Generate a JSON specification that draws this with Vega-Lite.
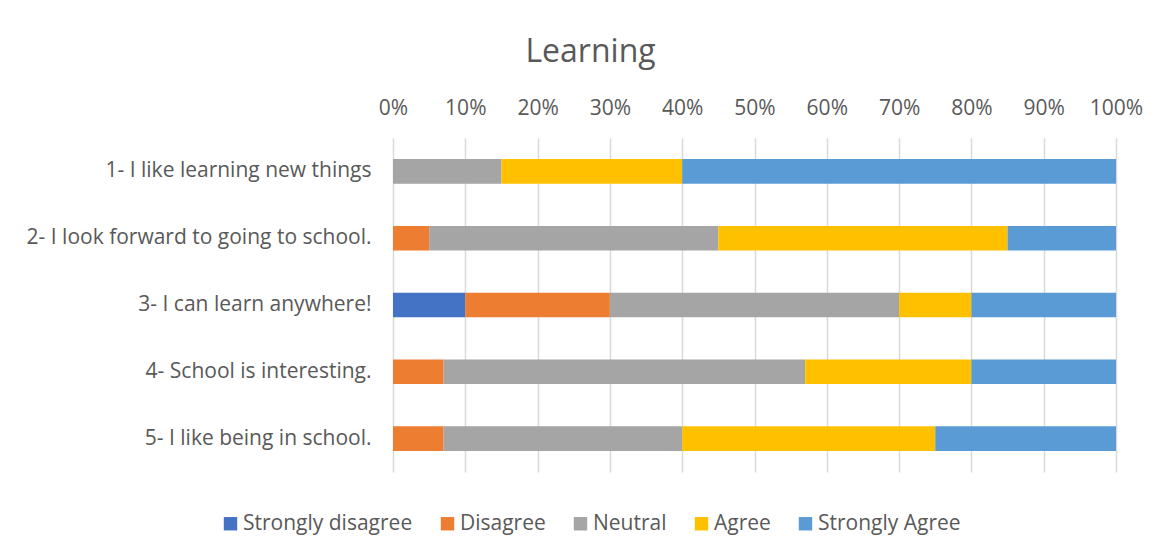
{
  "$schema": "https://vega.github.io/schema/vega-lite/v6.json",
  "width": 723,
  "height": 334,
  "autosize": {"type": "none"},
  "padding": {"left": 393, "top": 138, "right": 58, "bottom": 86},
  "background": "white",
  "title": {"text": "Learning", "fontSize": 32, "font": "Open Sans", "fontWeight": "normal", "color": "#595959", "anchor": "middle", "dx": -164, "offset": 28},
  "data": {"values": [
    {"item": "1- I like learning new things", "response": "Neutral", "rank": 3, "pct": 15},
    {"item": "1- I like learning new things", "response": "Agree", "rank": 4, "pct": 25},
    {"item": "1- I like learning new things", "response": "Strongly Agree", "rank": 5, "pct": 60},
    {"item": "2- I look forward to going to school.", "response": "Disagree", "rank": 2, "pct": 5},
    {"item": "2- I look forward to going to school.", "response": "Neutral", "rank": 3, "pct": 40},
    {"item": "2- I look forward to going to school.", "response": "Agree", "rank": 4, "pct": 40},
    {"item": "2- I look forward to going to school.", "response": "Strongly Agree", "rank": 5, "pct": 15},
    {"item": "3- I can learn anywhere!", "response": "Strongly disagree", "rank": 1, "pct": 10},
    {"item": "3- I can learn anywhere!", "response": "Disagree", "rank": 2, "pct": 20},
    {"item": "3- I can learn anywhere!", "response": "Neutral", "rank": 3, "pct": 40},
    {"item": "3- I can learn anywhere!", "response": "Agree", "rank": 4, "pct": 10},
    {"item": "3- I can learn anywhere!", "response": "Strongly Agree", "rank": 5, "pct": 20},
    {"item": "4- School is interesting.", "response": "Disagree", "rank": 2, "pct": 7},
    {"item": "4- School is interesting.", "response": "Neutral", "rank": 3, "pct": 50},
    {"item": "4- School is interesting.", "response": "Agree", "rank": 4, "pct": 23},
    {"item": "4- School is interesting.", "response": "Strongly Agree", "rank": 5, "pct": 20},
    {"item": "5- I like being in school.", "response": "Disagree", "rank": 2, "pct": 7},
    {"item": "5- I like being in school.", "response": "Neutral", "rank": 3, "pct": 33},
    {"item": "5- I like being in school.", "response": "Agree", "rank": 4, "pct": 35},
    {"item": "5- I like being in school.", "response": "Strongly Agree", "rank": 5, "pct": 25}
  ]},
  "mark": {"type": "bar", "height": {"band": 0.41}},
  "encoding": {
    "y": {"field": "item", "type": "nominal", "sort": null, "title": null,
      "axis": {"domain": false, "ticks": false, "labelFontSize": 21, "labelFont": "Open Sans", "labelColor": "#595959", "labelPadding": 22, "labelLimit": 400}},
    "x": {"field": "pct", "type": "quantitative", "stack": "normalize", "title": null,
      "axis": {"orient": "top", "format": "%", "values": [0,0.1,0.2,0.3,0.4,0.5,0.6,0.7,0.8,0.9,1], "domain": false, "ticks": false, "grid": true, "gridColor": "#d9d9d9", "gridWidth": 1.5, "labelFontSize": 21, "labelFont": "Open Sans", "labelColor": "#595959", "labelPadding": 20, "labelFlush": false}},
    "color": {"field": "response", "type": "nominal", "title": null,
      "scale": {"domain": ["Strongly disagree", "Disagree", "Neutral", "Agree", "Strongly Agree"], "range": ["#4472C4", "#ED7D31", "#A5A5A5", "#FFC000", "#5B9BD5"]},
      "legend": {"orient": "none", "direction": "horizontal", "legendX": -173, "legendY": 375, "symbolType": "square", "symbolSize": 180, "symbolStrokeWidth": 0, "labelFontSize": 21, "labelFont": "Open Sans", "labelColor": "#595959", "labelLimit": 400, "columnPadding": 24, "labelOffset": 2}},
    "order": {"field": "rank", "type": "quantitative"}
  },
  "config": {"view": {"stroke": null}}
}
